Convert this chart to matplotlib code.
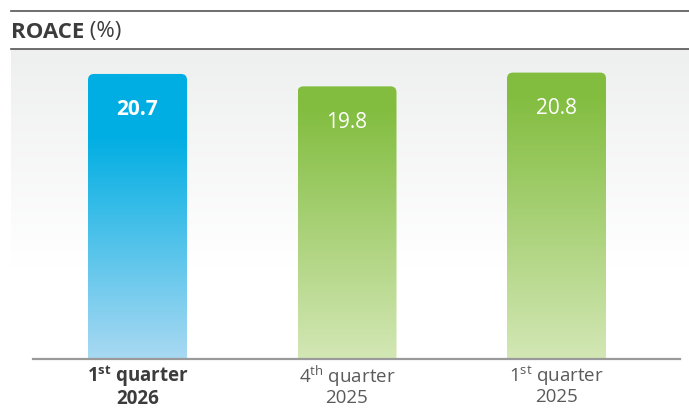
import numpy as np
import matplotlib
matplotlib.use("Agg")
import matplotlib.pyplot as plt
from matplotlib.patches import FancyBboxPatch
from matplotlib.lines import Line2D
from matplotlib.colors import to_rgba

plt.rcParams['font.family'] = ['Open Sans', 'DejaVu Sans']
plt.rcParams['mathtext.fontset'] = 'custom'
plt.rcParams['mathtext.rm'] = 'Open Sans'
plt.rcParams['mathtext.bf'] = 'Open Sans:bold'
plt.rcParams['mathtext.it'] = 'Open Sans:italic'

# ---- data ----
categories = [r"1$^{\mathbf{st}}$ quarter" + "\n2026",
              r"4$^{\mathrm{th}}$ quarter" + "\n2025",
              r"1$^{\mathrm{st}}$ quarter" + "\n2025"]
values = [20.7, 19.8, 20.8]
value_labels = ["20.7", "19.8", "20.8"]
highlight = [True, False, False]

W, H = 689, 410
fig = plt.figure(figsize=(W / 100, H / 100), dpi=100)
ax = fig.add_axes([11 / W, (H - 360) / H, 678 / W, 310 / H])

x = np.arange(len(values))
spacing_px = 209.5
bar_w = 99 / spacing_px
xlim = (-(137.5 - 11) / spacing_px, (689 - 137.5) / spacing_px)
ylim = (0, 310 / 13.77)

# background gradient
bg_top = np.array(to_rgba('#EEEFEF'))
bg_bot = np.array(to_rgba('#FFFFFF'))
n = 200
t = np.linspace(0, 1, n)
f = np.clip(t / 0.70, 0, 1)[:, None]
bg = bg_top * (1 - f) + bg_bot * f
ax.imshow(bg[:, None, :], extent=[0, 1, 0, 1], transform=ax.transAxes,
          aspect='auto', zorder=0, interpolation='bilinear')

def grad(top, bot, solid):
    c1 = np.array(to_rgba(top)); c2 = np.array(to_rgba(bot))
    tt = np.linspace(0, 1, 300)
    ff = np.clip((tt - solid) / (1 - solid), 0, 1)[:, None]
    return (c1 * (1 - ff) + c2 * ff)[:, None, :]

blue = grad('#00AEE3', '#A9D9F2', 0.22)
green = grad('#82BD3F', '#D3E7B5', 0.08)

rx = 6 / spacing_px
ry = 6 / 13.77
for xi, v, hl in zip(x, values, highlight):
    patch = FancyBboxPatch((xi - bar_w / 2, -2), bar_w, v + 2,
                           boxstyle=f"round,pad=0,rounding_size={rx}",
                           mutation_aspect=ry / rx,
                           facecolor='none', edgecolor='none',
                           transform=ax.transData)
    ax.add_patch(patch)
    im = ax.imshow(blue if hl else green,
                   extent=[xi - bar_w / 2, xi + bar_w / 2, 0, v],
                   aspect='auto', zorder=2, interpolation='bilinear')
    im.set_clip_path(patch)

for xi, v, lab, hl in zip(x, values, value_labels, highlight):
    ax.annotate(lab, xy=(xi, v), xytext=(0, -35 * 0.72), textcoords='offset points',
                ha='center', va='center', color='white', fontsize=15,
                fontweight='bold' if hl else 'normal', zorder=5)

ax.set_xlim(*xlim)
ax.set_ylim(*ylim)
for s in ax.spines.values():
    s.set_visible(False)
ax.set_yticks([])
ax.set_xticks(x)
ax.set_xticklabels(categories, fontsize=13.5, linespacing=1.0)
ax.tick_params(axis='x', length=0, pad=2.5)
for lbl, hl in zip(ax.get_xticklabels(), highlight):
    lbl.set_color('#3C3C3C' if hl else '#5A5A5A')
    lbl.set_fontweight('bold' if hl else 'normal')

ax.axhline(0, xmin=(33 - 11) / 678, xmax=(680 - 11) / 678, color='#9A9A9A',
           lw=1.6, zorder=6, clip_on=False)

# top rules
fig.add_artist(Line2D([11 / W, 1], [1 - 12 / H] * 2, color='#555555', lw=1.2))
fig.add_artist(Line2D([11 / W, 1], [1 - 50 / H] * 2, color='#555555', lw=1.2))

t1 = fig.text(11 / W, 1 - 32 / H, "ROACE", fontsize=16, fontweight='bold',
              color='#3C3C3C', va='center', ha='left')
ax.annotate(" (%)", xy=(1, 0), xycoords=t1, va='bottom', ha='left',
            fontsize=16, color='#3C3C3C', annotation_clip=False)

fig.savefig("out.png", dpi=100)
